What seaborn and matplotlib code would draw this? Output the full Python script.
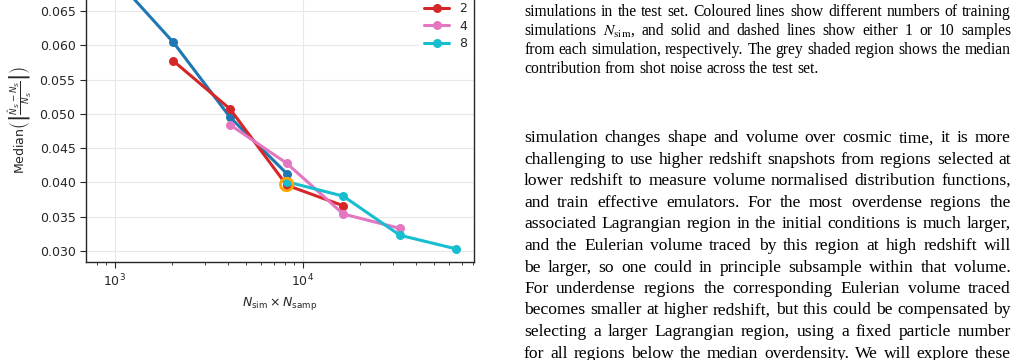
import pandas as pd
import matplotlib
matplotlib.use("Agg")
import matplotlib.pyplot as plt
from matplotlib.ticker import FormatStrFormatter, MultipleLocator
import seaborn as sns

# ---------------- data ----------------
n_samp_labels = ["1", "2", "4", "8"]

x_1 = [1024, 2048, 4096, 8192]
err_1 = [0.0695, 0.0604, 0.0495, 0.0413]

x_2 = [2048, 4096, 8192, 16384]
err_2 = [0.0577, 0.0507, 0.0396, 0.0366]

x_4 = [4096, 8192, 16384, 32768]
err_4 = [0.0484, 0.0428, 0.0354, 0.0333]

x_8 = [8192, 16384, 32768, 65536]
err_8 = [0.0401, 0.0380, 0.0323, 0.0303]

chosen_x = [8192]
chosen_err = [0.0397]

colours = ["#1f77b4", "#d62728", "#e377c2", "#17becf"]

caption_lines = [
    "simulations in the test set. Coloured lines show different numbers of training",
    "simulations $N_\\mathrm{sim}$, and solid and dashed lines show either 1 or 10 samples",
    "from each simulation, respectively. The grey shaded region shows the median",
    "contribution from shot noise across the test set.",
]

body_lines = [
    "simulation changes shape and volume over cosmic time, it is more",
    "challenging to use higher redshift snapshots from regions selected at",
    "lower redshift to measure volume normalised distribution functions,",
    "and train effective emulators. For the most overdense regions the",
    "associated Lagrangian region in the initial conditions is much larger,",
    "and the Eulerian volume traced by this region at high redshift will",
    "be larger, so one could in principle subsample within that volume.",
    "For underdense regions the corresponding Eulerian volume traced",
    "becomes smaller at higher redshift, but this could be compensated by",
    "selecting a larger Lagrangian region, using a fixed particle number",
    "for all regions below the median overdensity. We will explore these",
]

# ---------------- long table for seaborn ----------------
frames = []
for lab, xs, ys in zip(n_samp_labels, [x_1, x_2, x_4, x_8], [err_1, err_2, err_4, err_8]):
    frames.append(pd.DataFrame({"x": xs, "err": ys, "nsamp": lab}))
df = pd.concat(frames, ignore_index=True)
paleta = dict(zip(n_samp_labels, colours))

# ---------------- style ----------------
sns.set_style("whitegrid", {
    "axes.edgecolor": "0.15",
    "grid.color": "0.91",
    "xtick.bottom": True,
    "ytick.left": True,
})
plt.rcParams["font.family"] = ["DejaVu Sans"]

W, H = 1016, 360
y_lo, y_hi = 0.0284, 0.0699
px_per_unit = 6860
fig = plt.figure(figsize=(W / 100, H / 100), dpi=100)
ax = fig.add_axes([86 / W, 98 / H, 388 / W, (y_hi - y_lo) * px_per_unit / H])

sns.lineplot(data=df, x="x", y="err", hue="nsamp", palette=paleta,
             hue_order=n_samp_labels, marker="o", markersize=6.5,
             markeredgewidth=0, linewidth=2.2, ax=ax)
ax.scatter(chosen_x, chosen_err, s=80, facecolors="none",
           edgecolors="#ffa500", linewidths=2, zorder=6)

ax.set_xscale("log")
ax.set_xlim(702, 81200)
ax.set_ylim(y_lo, y_hi)
ax.yaxis.set_major_locator(MultipleLocator(0.005))
ax.yaxis.set_major_formatter(FormatStrFormatter("%.3f"))
ax.tick_params(axis="both", which="major", labelsize=9, length=4, width=0.8, color="0.15")
ax.tick_params(axis="x", which="minor", length=2.5, width=0.6, color="0.15")
ax.grid(True, which="major", linewidth=0.8)
ax.grid(False, which="minor")
for s in ax.spines.values():
    s.set_linewidth(1.0)

ax.set_xlabel(r"$N_{\rm sim} \times N_{\rm samp}$", fontsize=9)
ax.set_ylabel(r"Median$\left(\left|\frac{\hat{N}_S - N_S}{N_S}\right|\right)$", fontsize=9)

sns.move_legend(ax, "upper right", title=None, fontsize=9, frameon=True,
                bbox_to_anchor=(1, 1), borderaxespad=0.15, labelspacing=0.38,
                framealpha=1, edgecolor="white", handlelength=2.0)

# ---------------- page text (justified) ----------------
renderer = fig.canvas.get_renderer()
left, right = 524, 1011


def text_width(s, size):
    t = fig.text(0, 0, s, fontsize=size, family="Liberation Serif", math_fontfamily="stix")
    w = t.get_window_extent(renderer).width
    t.remove()
    return w


def put_lines(lines, first_base, step, size, ragged_last):
    for i, line in enumerate(lines):
        words = line.split(" ")
        arts = [fig.text(0, 0, w, fontsize=size, family="Liberation Serif",
                         math_fontfamily="stix", va="baseline", color="black")
                for w in words]
        widths = [a.get_window_extent(renderer).width for a in arts]
        if ragged_last and i == len(lines) - 1:
            gap = text_width("a a", size) - text_width("aa", size)
        else:
            gap = (right - left - sum(widths)) / (len(words) - 1)
        xpos = left
        y = first_base + i * step
        for a, w in zip(arts, widths):
            a.set_position((xpos / W, 1 - y / H))
            xpos += w + gap


# font sizes calibrated so the tightest lines just fit the column
cap_size = 10 * 480 / text_width(caption_lines[0], 10)
body_size = 10 * 482 / text_width(body_lines[8], 10)

put_lines(caption_lines, 15.6, 19.1, cap_size, True)
put_lines(body_lines, 142.5, 21.5, body_size, False)

fig.savefig("out.png", dpi=100)
